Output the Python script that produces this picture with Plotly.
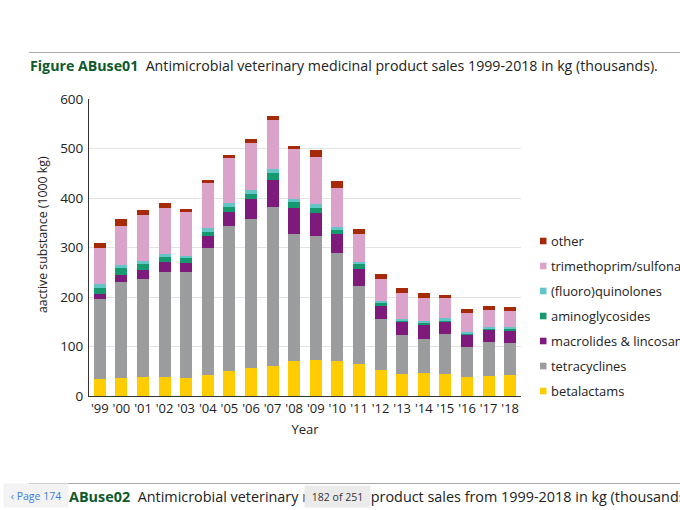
import plotly.graph_objects as go

# ---- data (1000 kg active substance) ----
years = ["'99", "'00", "'01", "'02", "'03", "'04", "'05", "'06", "'07", "'08",
         "'09", "'10", "'11", "'12", "'13", "'14", "'15", "'16", "'17", "'18"]
betalactams = [34, 36, 38, 38, 36, 42, 51, 57, 61, 70, 73, 71, 65, 53, 44, 47, 44, 38, 41, 42]
tetracyclines = [162, 194, 199, 213, 215, 257, 292, 300, 321, 257, 251, 218, 158, 102, 79, 69, 82, 61, 68, 65]
macrolides = [10, 15, 17, 19, 18, 24, 28, 42, 55, 53, 46, 38, 34, 26, 27, 29, 24, 25, 26, 26]
aminoglycosides = [13, 13, 13, 11, 9, 9, 11, 10, 13, 11, 10, 9, 9, 7, 3, 3, 3, 3, 2, 3]
fluoroquinolones = [8, 7, 5, 5, 5, 7, 7, 8, 9, 7, 8, 6, 5, 3, 3, 3, 4, 3, 3, 3]
trimethoprim = [71, 79, 93, 93, 88, 92, 92, 94, 98, 100, 94, 78, 57, 46, 53, 48, 40, 38, 33, 33]
other = [12, 13, 11, 11, 7, 6, 6, 8, 9, 7, 14, 14, 10, 10, 9, 9, 8, 7, 8, 8]

series_names = ["betalactams", "tetracyclines", "macrolides & lincosamides", "aminoglycosides",
                "(fluoro)quinolones", "trimethoprim/sulfonamides", "other"]
series_values = [betalactams, tetracyclines, macrolides, aminoglycosides,
                 fluoroquinolones, trimethoprim, other]
series_colors = ["#FFCC00", "#9B9C9D", "#7E1A7C", "#16996F", "#63C6C6", "#DBA3C9", "#A62A08"]

FONT = "Open Sans"
W, H = 680, 510
L, R, T, B = 89, 159, 99, 114
PW, PH = W - L - R, H - T - B


def px(x):
    return (x - L) / PW


def py(y):
    return (H - B - y) / PH


fig = go.Figure()
for name, vals, col in zip(series_names, series_values, series_colors):
    fig.add_trace(go.Bar(x=years, y=vals, name=name, marker=dict(color=col, line=dict(width=0)),
                         showlegend=False))

annotations = []
shapes = []

# manual legend (top item = last series)
for i, (name, col) in enumerate(zip(reversed(series_names), reversed(series_colors))):
    yc = 241 + i * 25
    shapes.append(dict(type="rect", xref="paper", yref="paper",
                       x0=px(540), x1=px(546.5), y0=py(yc + 3.3), y1=py(yc - 3.3),
                       fillcolor=col, line=dict(width=0)))
    annotations.append(dict(text=name, xref="paper", yref="paper", x=px(549), y=py(yc),
                            xanchor="left", yanchor="middle", showarrow=False,
                            font=dict(family=FONT, size=12.9, color="#222222")))

# y axis title
annotations.append(dict(text="aactive substance (1000 kg)", xref="paper", yref="paper",
                        x=px(42), y=py(235), textangle=-90, xanchor="center", yanchor="middle",
                        showarrow=False, font=dict(family=FONT, size=12.3, color="#222222")))

# page title
annotations.append(dict(
    text="<b><span style='color:#0E5A2C'>Figure ABuse01</span></b>  Antimicrobial veterinary medicinal product sales 1999-2018 in kg (thousands).",
    xref="paper", yref="paper", x=px(28), y=py(66), xanchor="left", yanchor="middle",
    showarrow=False, font=dict(family=FONT, size=14.2, color="#222222")))

# next page caption (bottom)
annotations.append(dict(
    text="<b><span style='color:#0E5A2C'>ABuse02</span></b>  Antimicrobial veterinary medicinal product sales from 1999-2018 in kg (thousands).",
    xref="paper", yref="paper", x=px(67), y=py(496.5), xanchor="left", yanchor="middle",
    showarrow=False, font=dict(family=FONT, size=14.4, color="#222222")))

# viewer overlays
annotations.append(dict(text="‹ Page 174", xref="paper", yref="paper", x=px(36), y=py(495),
                        xanchor="center", yanchor="middle", showarrow=False, width=62, height=21,
                        bgcolor="#F3F3F3", font=dict(family=FONT, size=10.5, color="#3A7BE0")))
annotations.append(dict(text="182 of 251", xref="paper", yref="paper", x=px(337), y=py(497),
                        xanchor="center", yanchor="middle", showarrow=False, width=63, height=19,
                        bgcolor="#EBEBEB", font=dict(family=FONT, size=10.5, color="#333333")))

# separator lines
shapes.append(dict(type="line", xref="paper", yref="paper", x0=px(29), x1=px(680),
                   y0=py(52.5), y1=py(52.5), line=dict(color="#A8A8A8", width=1)))
shapes.append(dict(type="line", xref="paper", yref="paper", x0=px(29), x1=px(680),
                   y0=py(483.5), y1=py(483.5), line=dict(color="#A8A8A8", width=1)))

fig.update_layout(
    width=W, height=H,
    margin=dict(l=L, r=R, t=T, b=B, autoexpand=False),
    barmode="stack", bargap=0.44,
    plot_bgcolor="white", paper_bgcolor="white",
    font=dict(family=FONT, size=13, color="#222222"),
    annotations=annotations, shapes=shapes,
    showlegend=False,
    xaxis=dict(showline=True, linecolor="#333333", linewidth=1, ticks="", showgrid=False,
               tickfont=dict(family=FONT, size=13, color="#222222"),
               title=dict(text="Year", standoff=9, font=dict(family=FONT, size=13, color="#222222")),
               automargin=False),
    yaxis=dict(range=[0, 600], dtick=100, showline=True, linecolor="#333333", linewidth=1,
               ticks="outside", ticklen=2, tickcolor="rgba(0,0,0,0)",
               showgrid=True, gridcolor="#E3E3E3", gridwidth=1, zeroline=False,
               tickfont=dict(family=FONT, size=13.5, color="#222222"), automargin=False),
)

fig.write_html("out.html", config={"displayModeBar": False},
               post_script="document.body.style.margin='0';")
